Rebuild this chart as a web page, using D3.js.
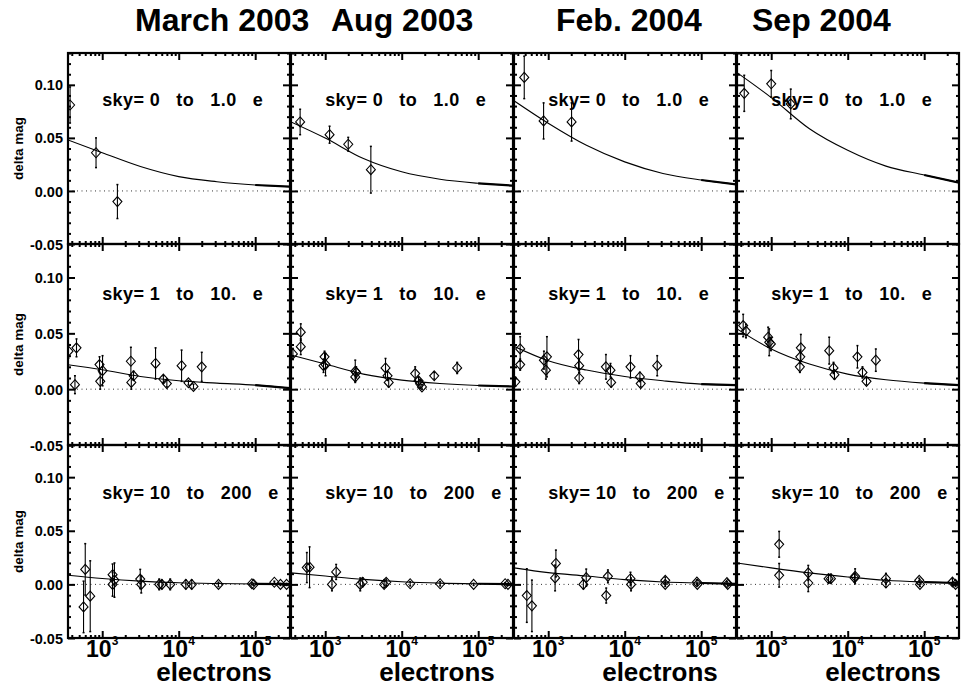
<!DOCTYPE html>
<html><head><meta charset="utf-8">
<script src="https://cdn.jsdelivr.net/npm/d3@7"></script>
<style>
body{margin:0;background:#fff}
text{font-family:"Liberation Sans",Arial,Helvetica,sans-serif;font-weight:bold;fill:#000}
</style>
</head><body>
<svg id="chart" width="966" height="687"></svg>
<script>
// ---------------- data ----------------
const epochs = ["March 2003", "Aug 2003", "Feb. 2004", "Sep 2004"];
const skyBins = ["sky= 0  to  1.0  e", "sky= 1  to  10.  e", "sky= 10  to  200  e"];
const yTickValues = [-0.05, 0.00, 0.05, 0.10];
const yTickLabels = ["-0.05", "0.00", "0.05", "0.10"];
const xTickExponents = [3, 4, 5];
const yLabel = "delta mag";
const xLabel = "electrons";

// model curve samples (electrons -> delta mag)
const fitElectrons = [357, 1000, 3160, 10000, 31600, 100000, 285000];
const fitSky0to1 = [
  [0.048, 0.036, 0.023, 0.0135, 0.0087, 0.0056, 0.0040],
  [0.065, 0.0498, 0.0305, 0.018, 0.011, 0.0072, 0.0050],
  [0.085, 0.0638, 0.043, 0.0274, 0.0165, 0.0103, 0.0062],
  [0.1115, 0.088, 0.0586, 0.0383, 0.0234, 0.0150, 0.0078]
];
const fitSky1to10 = [
  [0.0219, 0.0174, 0.0114, 0.0075, 0.0054, 0.0036, 0.0010],
  [0.0306, 0.0225, 0.0135, 0.0081, 0.0051, 0.0033, 0.0024],
  [0.0384, 0.0255, 0.0171, 0.0114, 0.0075, 0.0045, 0.0036],
  [0.054, 0.036, 0.0225, 0.0135, 0.0084, 0.0054, 0.0036]
];
const fitSky10to200 = [
  [0.0085, 0.0055, 0.0030, 0.0015, 0.0008, 0.0004, 0.0002],
  [0.0107, 0.0078, 0.0047, 0.0025, 0.0012, 0.0006, 0.0003],
  [0.0154, 0.0110, 0.0078, 0.0044, 0.0022, 0.0013, 0.0005],
  [0.0200, 0.0154, 0.0107, 0.0069, 0.0038, 0.0022, 0.0013]
];

// measured points: [electrons, delta mag, error]
const pointsSky0to1 = [
  [[380, 0.081, 0.017], [830, 0.036, 0.014], [1580, -0.010, 0.016]],
  [[470, 0.065, 0.012], [1140, 0.053, 0.008], [2000, 0.044, 0.0065], [3950, 0.020, 0.022]],
  [[486, 0.107, 0.020], [870, 0.066, 0.017], [2020, 0.065, 0.018]],
  [[444, 0.092, 0.017], [1000, 0.101, 0.0125], [1800, 0.082, 0.014]]
];
const pointsSky1to10 = [
  [[362, 0.034, 0.006], [461, 0.037, 0.008], [440, 0.004, 0.008], [922, 0.022, 0.007],
   [942, 0.007, 0.007], [1010, 0.0165, 0.0135], [2370, 0.025, 0.0125], [2400, 0.006, 0.006],
   [2570, 0.012, 0.004], [4980, 0.023, 0.014], [6300, 0.009, 0.003], [7000, 0.005, 0.003],
   [10900, 0.021, 0.014], [13400, 0.0057, 0.002], [15600, 0.0024, 0.002], [20000, 0.020, 0.013]],
  [[378, 0.0315, 0.005], [479, 0.051, 0.0075], [479, 0.038, 0.007], [980, 0.029, 0.005],
   [1010, 0.022, 0.010], [950, 0.021, 0.006], [2470, 0.016, 0.010], [2540, 0.015, 0.005],
   [2470, 0.011, 0.004], [6140, 0.019, 0.0085], [6530, 0.012, 0.004], [6760, 0.006, 0.004],
   [15000, 0.014, 0.006], [16600, 0.0075, 0.003], [17400, 0.0048, 0.003], [18400, 0.002, 0.002],
   [26600, 0.012, 0.003], [53100, 0.019, 0.005]],
  [[372, 0.0066, 0.004], [430, 0.036, 0.011], [430, 0.022, 0.005], [879, 0.026, 0.008],
   [962, 0.029, 0.018], [933, 0.017, 0.008], [2490, 0.031, 0.0135], [2540, 0.021, 0.006],
   [2540, 0.010, 0.005], [5680, 0.020, 0.011], [6520, 0.017, 0.006], [6650, 0.006, 0.004],
   [11900, 0.020, 0.010], [15800, 0.011, 0.004], [16200, 0.005, 0.003], [26600, 0.021, 0.009]],
  [[430, 0.057, 0.010], [468, 0.052, 0.006], [912, 0.0465, 0.009], [942, 0.042, 0.012],
   [990, 0.0405, 0.006], [2440, 0.037, 0.012], [2400, 0.029, 0.006], [2370, 0.020, 0.005],
   [5730, 0.0345, 0.012], [6520, 0.019, 0.005], [6710, 0.013, 0.004], [13400, 0.029, 0.010],
   [15600, 0.015, 0.005], [17600, 0.007, 0.003], [23300, 0.026, 0.010]]
];
const pointsSky10to200 = [
  [[600, 0.014, 0.024], [570, -0.021, 0.024], [697, -0.011, 0.033], [1365, 0.009, 0.010],
   [1365, 0.000, 0.011], [1445, 0.004, 0.016], [3140, 0.005, 0.009], [3240, 0.000, 0.008],
   [5560, 0.000, 0.005], [6030, 0.000, 0.004], [7740, 0.000, 0.005], [12400, 0.000, 0.004],
   [14800, 0.000, 0.004], [33100, 0.000, 0.002], [90600, 0.0006, 0.001], [95500, 0.000, 0.001],
   [178000, 0.002, 0.001], [214000, 0.000, 0.001], [257000, 0.000, 0.001]],
  [[575, 0.0157, 0.014], [624, 0.016, 0.019], [1390, 0.0116, 0.007], [1225, 0.000, 0.006],
   [2870, 0.000, 0.006], [3090, 0.002, 0.004], [5890, 0.000, 0.003], [6270, 0.002, 0.003],
   [12900, 0.0006, 0.002], [31800, 0.0006, 0.002], [87100, 0.000, 0.001], [225000, 0.0006, 0.001],
   [245000, 0.000, 0.001]],
  [[525, -0.0104, 0.025], [612, -0.020, 0.024], [1260, 0.0195, 0.0125], [1230, 0.006, 0.012],
   [2880, 0.000, 0.004], [3140, 0.0063, 0.008], [6030, 0.0075, 0.006], [5730, -0.0104, 0.007],
   [11900, 0.0053, 0.006], [12100, 0.000, 0.006], [33900, 0.0038, 0.003], [33900, 0.000, 0.002],
   [87900, 0.0022, 0.002], [89000, 0.000, 0.001], [217000, 0.0016, 0.001], [222000, 0.000, 0.001]],
  [[1270, 0.0374, 0.012], [1270, 0.0085, 0.011], [3050, 0.0107, 0.007], [3050, 0.0013, 0.008],
   [5620, 0.0053, 0.004], [6030, 0.0053, 0.004], [12500, 0.0075, 0.007], [12300, 0.006, 0.004],
   [31600, 0.0053, 0.005], [31600, 0.0013, 0.004], [86100, 0.0038, 0.002], [88000, 0.000, 0.002],
   [234000, 0.0022, 0.003], [257000, 0.000, 0.002]]
];

const fitRows = [fitSky0to1, fitSky1to10, fitSky10to200];
const pointRows = [pointsSky0to1, pointsSky1to10, pointsSky10to200];

// ---------------- layout ----------------
const svg = d3.select("#chart");
const colLeft = [68, 291, 514, 737];
const panelW = 222;
const rowTop = [53, 244, 445];
const rowBottom = [244, 445, 638];
const xDomain = [357, 285000];
const yDomain = [-0.05, 0.13];
const titleX = [135, 331, 556, 752];

const diamond = "M0,-5L4.5,0L0,5L-4.5,0Z";

epochs.forEach((t, c) => {
  svg.append("text").attr("x", titleX[c]).attr("y", 31)
    .attr("font-size", 32).text(t);
});

for (let r = 0; r < 3; r++) {
  for (let c = 0; c < 4; c++) {
    const x0 = colLeft[c], x1 = x0 + panelW;
    const y0 = rowTop[r], y1 = rowBottom[r];
    const x = d3.scaleLog().domain(xDomain).range([x0, x1]);
    const y = d3.scaleLinear().domain(yDomain).range([y1, y0]);
    const g = svg.append("g");
    const clipId = `clip-${r}-${c}`;
    svg.append("clipPath").attr("id", clipId).append("rect")
      .attr("x", x0).attr("y", y0).attr("width", panelW).attr("height", y1 - y0);

    // zero dotted line
    g.append("line").attr("x1", x0).attr("x2", x1).attr("y1", y(0)).attr("y2", y(0))
      .attr("stroke", "#333").attr("stroke-width", 1).attr("stroke-dasharray", "1,3.5");

    // axes ticks
    const majorY = yTickValues;
    const minorY = d3.range(-5, 14).map(v => v / 100).filter(v => !majorY.some(m => Math.abs(m - v) < 1e-9));
    const majorX = xTickExponents.map(e => Math.pow(10, e));
    const minorX = x.ticks().filter(v => Math.abs(Math.log10(v) - Math.round(Math.log10(v))) > 1e-6);

    const addAxis = (axis, tx, ty) => {
      const a = g.append("g").attr("transform", `translate(${tx},${ty})`).call(axis);
      a.select(".domain").remove();
      a.selectAll(".tick line").attr("stroke", "#000").attr("stroke-width", 2);
      return a;
    };
    const leftMajor = addAxis(d3.axisLeft(y).tickValues(majorY).tickSize(-7).tickPadding(5)
      .tickFormat((d, i) => c === 0 ? yTickLabels[i] : ""), x0, 0);
    leftMajor.attr("font-size", null).attr("font-family", null);
    leftMajor.selectAll("text").attr("font-size", 14.5).attr("dy", "0.35em");
    addAxis(d3.axisLeft(y).tickValues(minorY).tickSize(-3).tickFormat(""), x0, 0);
    addAxis(d3.axisRight(y).tickValues(majorY).tickSize(-7).tickFormat(""), x1, 0);
    addAxis(d3.axisRight(y).tickValues(minorY).tickSize(-3).tickFormat(""), x1, 0);
    addAxis(d3.axisBottom(x).tickValues(majorX).tickSize(-7).tickFormat(""), 0, y1);
    addAxis(d3.axisBottom(x).tickValues(minorX).tickSize(-3).tickFormat(""), 0, y1);
    addAxis(d3.axisTop(x).tickValues(majorX).tickSize(-7).tickFormat(""), 0, y0);
    addAxis(d3.axisTop(x).tickValues(minorX).tickSize(-3).tickFormat(""), 0, y0);

    // border
    g.append("rect").attr("x", x0).attr("y", y0).attr("width", panelW).attr("height", y1 - y0)
      .attr("fill", "none").attr("stroke", "#000").attr("stroke-width", 2.2);

    // sky label at data coords (1000, 0.08)
    g.append("text").attr("x", x(1000)).attr("y", y(0.08))
      .attr("font-size", 18).attr("letter-spacing", 0.4).style("white-space", "pre")
      .text(skyBins[r].replace(/  /g, "   "));

    // data layer
    const d = g.append("g").attr("clip-path", `url(#${clipId})`);
    const fit = fitElectrons.map((e, i) => [e, fitRows[r][c][i]]);
    const line = d3.line().x(p => x(p[0])).y(p => y(p[1])).curve(d3.curveMonotoneX);
    d.append("path").attr("d", line(fit)).attr("fill", "none").attr("stroke", "#000").attr("stroke-width", 1.1);
    d.append("path").attr("d", line(fit.filter(p => p[0] >= 100000)))
      .attr("fill", "none").attr("stroke", "#000").attr("stroke-width", 2.2);

    const pts = pointRows[r][c];
    const pg = d.selectAll("g.pt").data(pts).join("g").attr("class", "pt");
    pg.append("line").attr("x1", p => x(p[0])).attr("x2", p => x(p[0]))
      .attr("y1", p => y(p[1] - p[2])).attr("y2", p => y(p[1] + p[2]))
      .attr("stroke", "#000").attr("stroke-width", 1.1);
    pg.append("line").attr("x1", p => x(p[0]) - 1).attr("x2", p => x(p[0]) + 1)
      .attr("y1", p => y(p[1] + p[2])).attr("y2", p => y(p[1] + p[2])).attr("stroke", "#000").attr("stroke-width", 1.5);
    pg.append("line").attr("x1", p => x(p[0]) - 1).attr("x2", p => x(p[0]) + 1)
      .attr("y1", p => y(p[1] - p[2])).attr("y2", p => y(p[1] - p[2])).attr("stroke", "#000").attr("stroke-width", 1.5);
    pg.append("path").attr("d", diamond)
      .attr("transform", p => `translate(${x(p[0])},${y(p[1])})`)
      .attr("fill", "none").attr("stroke", "#000").attr("stroke-width", 1.1);

    if (c === 0) {
      svg.append("text").attr("transform", `translate(${23},${(y0 + y1) / 2}) rotate(-90)`)
        .attr("text-anchor", "middle").attr("font-size", 13.5).text(yLabel);
    }
    if (r === 2) {
      xTickExponents.forEach(e => {
        const t = svg.append("text").attr("x", x(Math.pow(10, e))).attr("y", 657)
          .attr("text-anchor", "middle").attr("font-size", 23);
        t.append("tspan").text("10");
        t.append("tspan").attr("dy", -12).attr("font-size", 12).text(String(e));
      });
      svg.append("text").attr("x", (x0 + x1) / 2 + 35).attr("y", 681)
        .attr("text-anchor", "middle").attr("font-size", 26).text(xLabel);
    }
  }
}
</script>
</body></html>
